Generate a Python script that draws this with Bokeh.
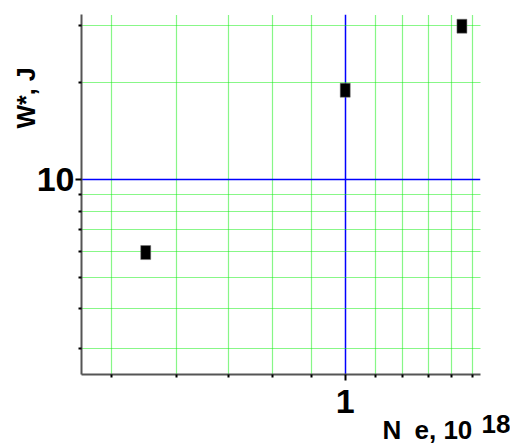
import math
from bokeh.plotting import figure
from bokeh.models import FixedTicker, LogAxis, CustomJSTickFormatter
from bokeh.embed import file_html
from bokeh.resources import INLINE

# data
x_vals = [0.5, 1.0, 1.5]
y_vals = [5.96, 18.95, 29.9]

x_major = [1]
x_minor = [4/9, 5/9, 6/9, 7/9, 8/9, 10/9, 11/9, 12/9, 13/9, 14/9]
y_major = [10]
y_minor = [3, 4, 5, 6, 7, 8, 9, 20, 30]

y_title = "W*, J"
x_title_parts = ["N", "e, 10"]
x_title_sup = "18"

FONT = "Liberation Sans"

p = figure(width=510, height=448, x_axis_type="log", y_axis_type="log",
           x_range=(0.4, 1.6), y_range=(2.5, 32.5),
           output_backend="svg", toolbar_location=None,
           min_border_left=81, min_border_right=30, min_border_top=14, min_border_bottom=74)
p.outline_line_color = None
p.background_fill_color = "white"

xt = FixedTicker(ticks=x_major, minor_ticks=x_minor)
yt = FixedTicker(ticks=y_major, minor_ticks=y_minor)
p.xaxis.ticker = xt
p.yaxis.ticker = yt
p.xgrid.ticker = FixedTicker(ticks=x_major, minor_ticks=x_minor)
p.ygrid.ticker = FixedTicker(ticks=y_major, minor_ticks=y_minor)

for g in (p.xgrid, p.ygrid):
    g.grid_line_color = "#0000ff"
    g.grid_line_width = 1.5
    g.grid_line_alpha = 1.0
    g.minor_grid_line_color = "#11ee11"
    g.minor_grid_line_dash = "1 1"
    g.minor_grid_line_width = 1.2

for ax in (p.xaxis, p.yaxis):
    ax.axis_line_color = "#555555"
    ax.axis_line_width = 2
    ax.major_tick_in = 0
    ax.major_tick_out = 6
    ax.minor_tick_in = 0
    ax.minor_tick_out = 3
    ax.major_tick_line_color = "black"
    ax.minor_tick_line_color = "black"
    ax.major_tick_line_width = 2
    ax.minor_tick_line_width = 2
    ax.major_label_text_font = FONT
    ax.major_label_text_font_style = "bold"
    ax.major_label_text_color = "black"

p.xaxis.major_label_overrides = {1: "1"}
p.yaxis.major_label_overrides = {10: "10"}
p.xaxis.major_label_text_font_size = "34px"
p.yaxis.major_label_text_font_size = "34px"
p.xaxis.major_label_standoff = 9
p.yaxis.major_label_standoff = 1

p.rect(x=x_vals, y=y_vals, width=10, height=14, width_units="screen", height_units="screen",
       fill_color="black", line_color="#777777", line_width=0.5)

# title placement along the axes, as fractions of the log ranges
def log_frac(lo, hi, f):
    return 10 ** (math.log10(lo) + f * (math.log10(hi) - math.log10(lo)))

y_title_pos = log_frac(2.5, 32.5, 0.768)
x_title_pos = [log_frac(0.4, 1.6, 0.778), log_frac(0.4, 1.6, 0.907)]
x_sup_pos = log_frac(0.4, 1.6, 0.985)


def title_axis(ticks, formatter, size, standoff, orientation="horizontal"):
    a = LogAxis(ticker=FixedTicker(ticks=ticks, minor_ticks=[]), formatter=formatter)
    a.axis_line_color = None
    a.major_tick_line_color = None
    a.minor_tick_line_color = None
    a.major_tick_out = 0
    a.major_tick_in = 0
    a.minor_tick_out = 0
    a.minor_tick_in = 0
    a.major_label_standoff = standoff
    a.major_label_orientation = orientation
    a.major_label_text_font = FONT
    a.major_label_text_font_style = "bold"
    a.major_label_text_font_size = size
    a.major_label_text_color = "black"
    return a

ya = title_axis([y_title_pos], CustomJSTickFormatter(args=dict(lbl=y_title), code="return lbl"),
                "25px", -7, "vertical")
p.add_layout(ya, "left")

xa = title_axis(x_title_pos, CustomJSTickFormatter(args=dict(labels=x_title_parts), code="return labels[index]"),
                "26px", -1)
p.add_layout(xa, "below")

xs = title_axis([x_sup_pos], CustomJSTickFormatter(args=dict(lbl="\u00a0" * 6 + x_title_sup), code="return lbl"),
                "26px", -39)
p.add_layout(xs, "below")

open("out.html", "w").write(file_html(p, INLINE))
